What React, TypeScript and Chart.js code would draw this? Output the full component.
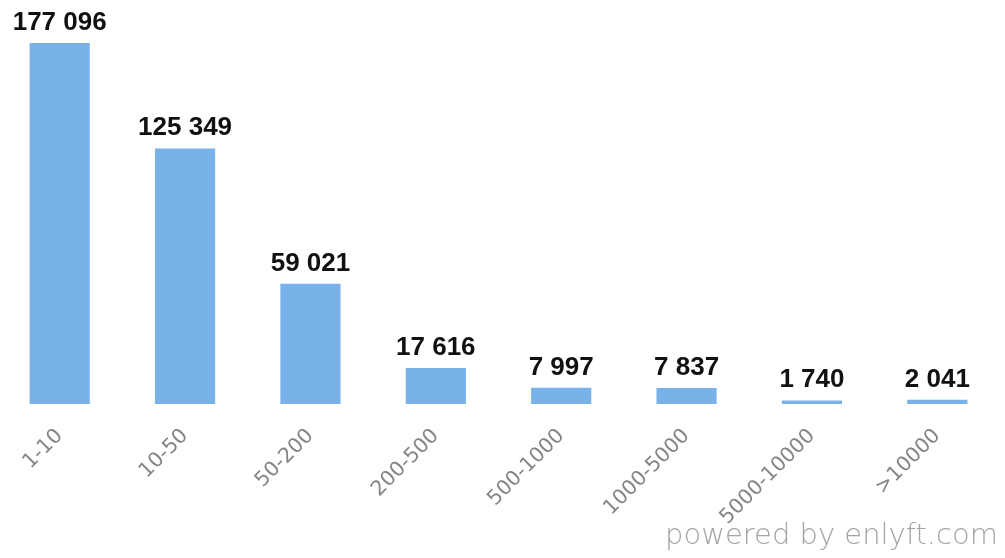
import React, { useEffect, useRef } from "react";
import { Chart, registerables } from "chart.js";

Chart.register(...registerables);

const categories = ["1-10", "10-50", "50-200", "200-500", "500-1000", "1000-5000", "5000-10000", ">10000"];
const companyCounts = [177096, 125349, 59021, 17616, 7997, 7837, 1740, 2041];
const yAxisMax = 180000;

const fmt = (v: number) => String(v).replace(/\B(?=(\d{3})+(?!\d))/g, " ");

const valueLabels = {
  id: "valueLabels",
  afterDatasetsDraw(chart: any) {
    const ctx = chart.ctx;
    const meta = chart.getDatasetMeta(0);
    ctx.save();
    ctx.font = "bold 26px 'Liberation Sans', Arial, sans-serif";
    ctx.fillStyle = "#111111";
    ctx.textAlign = "center";
    ctx.textBaseline = "alphabetic";
    meta.data.forEach((bar: any, i: number) => {
      ctx.fillText(fmt(companyCounts[i]), bar.x, bar.y - 13);
    });
    ctx.restore();
  },
};

export default function App() {
  const ref = useRef<HTMLCanvasElement>(null);
  useEffect(() => {
    if (!ref.current) return;
    const chart = new Chart(ref.current, {
      type: "bar",
      data: {
        labels: categories,
        datasets: [
          {
            data: companyCounts,
            backgroundColor: "#78b2e9",
            barPercentage: 0.48,
            categoryPercentage: 1,
          },
        ],
      },
      options: {
        animation: false,
        responsive: true,
        maintainAspectRatio: false,
        layout: { padding: { top: 37, left: 0, right: 0, bottom: 0 } },
        plugins: { legend: { display: false }, tooltip: { enabled: false } },
        scales: {
          y: { display: false, min: 0, max: yAxisMax },
          x: {
            grid: { display: false, drawTicks: false },
            border: { display: false },
            ticks: {
              maxRotation: 45,
              minRotation: 45,
              autoSkip: false,
              padding: 20,
              color: "#858585",
              font: { family: "'DejaVu Sans', sans-serif", size: 20.5 },
            },
            afterFit: (scale: any) => {
              scale.height = 154;
            },
          },
        },
      },
      plugins: [valueLabels],
    });
    return () => chart.destroy();
  }, []);

  return (
    <div style={{ position: "absolute", left: 0, top: 0, width: 1005, height: 558, overflow: "hidden", background: "#fff" }}>
      <div style={{ position: "absolute", left: -3, top: 0, width: 1003, height: 558 }}>
        <canvas ref={ref} />
      </div>
      <div
        style={{
          position: "absolute",
          right: 7,
          top: 517,
          fontFamily: "'DejaVu Sans', sans-serif",
          fontWeight: 200,
          fontSize: 29,
          color: "#a4a4a4",
          whiteSpace: "nowrap",
        }}
      >
        powered by enlyft.com
      </div>
    </div>
  );
}
